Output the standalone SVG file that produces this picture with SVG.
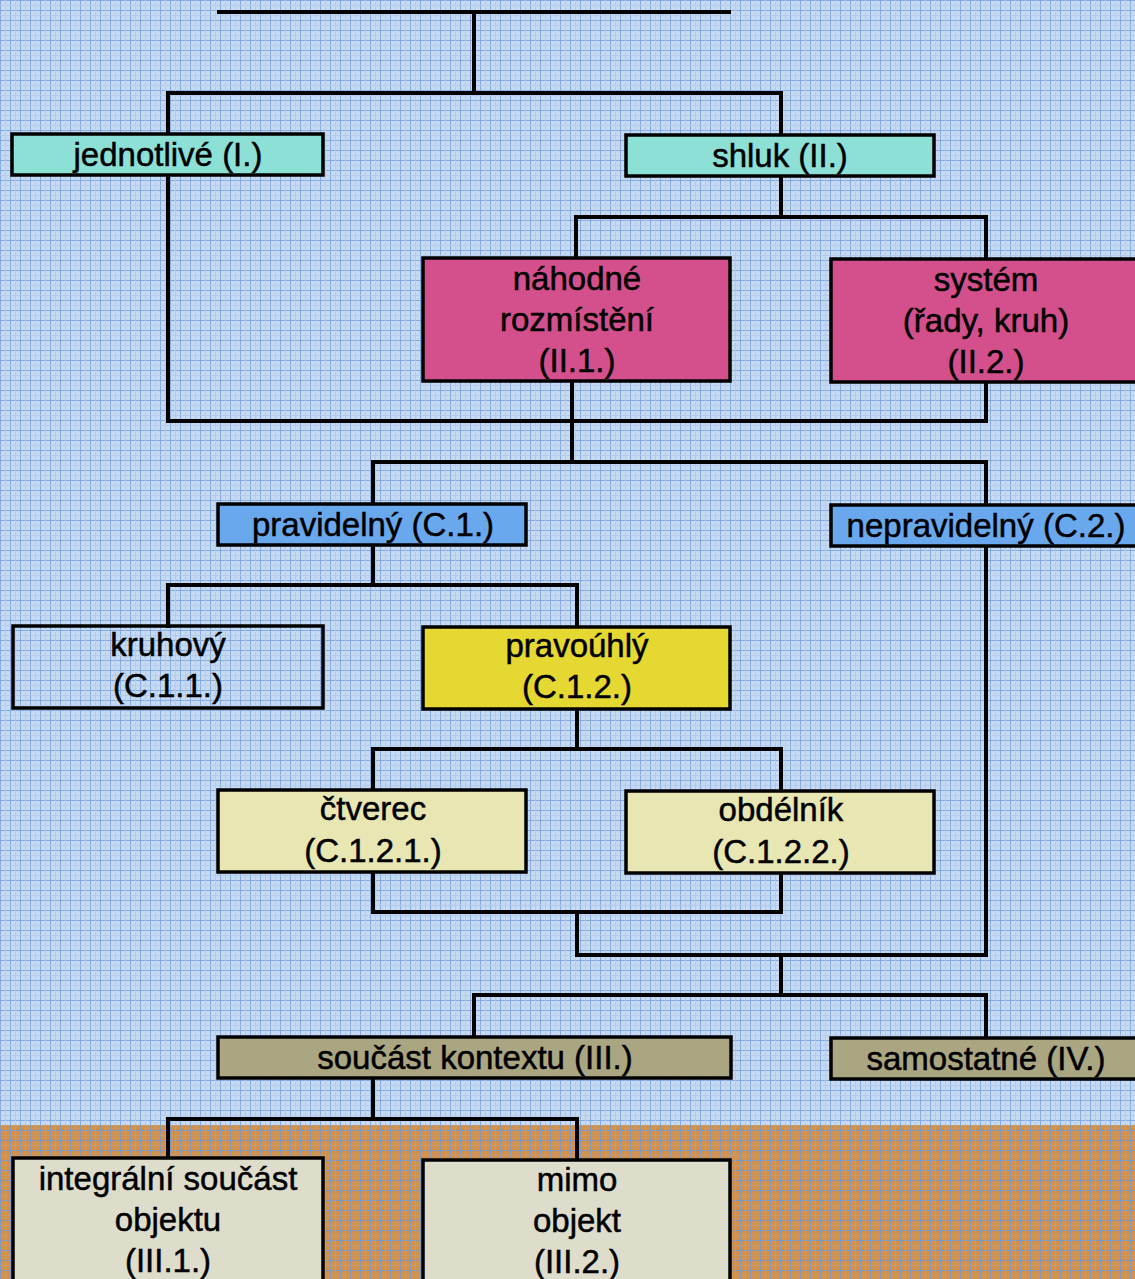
<svg xmlns="http://www.w3.org/2000/svg" width="1135" height="1279" viewBox="0 0 1135 1279">
<defs>
<pattern id="gridBlue" width="10" height="10" patternUnits="userSpaceOnUse">
<rect width="10" height="10" fill="#c6daf2"/>
<path d="M0 0.5H10M0.5 0V10" stroke="#84aadf" stroke-width="1"/>
<path d="M0 5.5H10M5.5 0V10" stroke="#b4cbec" stroke-width="1"/>
</pattern>
<pattern id="gridOrange" width="10" height="10" patternUnits="userSpaceOnUse">
<rect width="10" height="10" fill="#d3914a"/>
<path d="M0 0.5H10M0.5 0V10" stroke="#7f98c0" stroke-width="1"/>
<path d="M0 5.5H10M5.5 0V10" stroke="#c49870" stroke-width="1"/>
</pattern>
<style>
.box{stroke:#000;stroke-width:3.5}
.t{font-family:"Liberation Sans",Arial,sans-serif;font-size:33px;fill:#000;stroke:#000;stroke-width:0.5;text-anchor:middle}
.cn{fill:none;stroke:#000;stroke-width:4;stroke-linejoin:miter;stroke-linecap:square}
.cyan{fill:#8de0d6}
.mag{fill:#d4508c}
.blue{fill:#6aa8ee}
.yel{fill:#e6d832}
.pale{fill:#e8e6b2}
.khaki{fill:#aaa682}
.gray{fill:#deddcc}
.none{fill:none}
</style>
</defs>
<rect x="0" y="0" width="1135" height="1125" fill="url(#gridBlue)"/>
<rect x="0" y="1125" width="1135" height="154" fill="url(#gridOrange)"/>

<g id="connectors">
<path class="cn" d="M219 12H729"/>
<path class="cn" d="M474 12V93M168 134V93H781V135"/>
<path class="cn" d="M168 175V421H986V382"/>
<path class="cn" d="M781 176V217M576 258V217H986V259"/>
<path class="cn" d="M572 381V462M373 504V462H986V505"/>
<path class="cn" d="M373 545V585M168 626V585H577V627"/>
<path class="cn" d="M986 546V955"/>
<path class="cn" d="M577 709V749M373 790V749H781V791"/>
<path class="cn" d="M373 872V912H781V873"/>
<path class="cn" d="M577 912V955H986"/>
<path class="cn" d="M781 955V995M474 1037V995H986V1038"/>
<path class="cn" d="M373 1078V1119M168 1158V1119H577V1160"/>
</g>

<g id="n-jednotlive"><rect class="box cyan" x="12" y="134" width="311" height="41"/><text class="t" x="168" y="166">jednotlivé (I.)</text></g>
<g id="n-shluk"><rect class="box cyan" x="626" y="135" width="308" height="41"/><text class="t" x="780" y="167">shluk (II.)</text></g>
<g id="n-nahodne"><rect class="box mag" x="423" y="258" width="307" height="123"/><text class="t" x="577" y="290">náhodné</text><text class="t" x="577" y="331">rozmístění</text><text class="t" x="577" y="372">(II.1.)</text></g>
<g id="n-system"><rect class="box mag" x="831" y="259" width="310" height="123"/><text class="t" x="986" y="291">systém</text><text class="t" x="986" y="332">(řady, kruh)</text><text class="t" x="986" y="373">(II.2.)</text></g>
<g id="n-pravidelny"><rect class="box blue" x="218" y="504" width="308" height="41"/><text class="t" x="373" y="536">pravidelný (C.1.)</text></g>
<g id="n-nepravidelny"><rect class="box blue" x="831" y="505" width="310" height="41"/><text class="t" x="986" y="537">nepravidelný (C.2.)</text></g>
<g id="n-kruhovy"><rect class="box none" x="13" y="626" width="310" height="82"/><text class="t" x="168" y="656">kruhový</text><text class="t" x="168" y="697">(C.1.1.)</text></g>
<g id="n-pravouhly"><rect class="box yel" x="423" y="627" width="307" height="82"/><text class="t" x="577" y="657">pravoúhlý</text><text class="t" x="577" y="698">(C.1.2.)</text></g>
<g id="n-ctverec"><rect class="box pale" x="218" y="790" width="308" height="82"/><text class="t" x="373" y="820">čtverec</text><text class="t" x="373" y="862">(C.1.2.1.)</text></g>
<g id="n-obdelnik"><rect class="box pale" x="626" y="791" width="308" height="82"/><text class="t" x="781" y="821">obdélník</text><text class="t" x="781" y="863">(C.1.2.2.)</text></g>
<g id="n-soucast"><rect class="box khaki" x="218" y="1037" width="513" height="41"/><text class="t" x="475" y="1069">součást kontextu (III.)</text></g>
<g id="n-samostatne"><rect class="box khaki" x="831" y="1038" width="310" height="41"/><text class="t" x="986" y="1070">samostatné (IV.)</text></g>
<g id="n-integralni"><rect class="box gray" x="13" y="1158" width="310" height="130"/><text class="t" x="168" y="1190">integrální součást</text><text class="t" x="168" y="1231">objektu</text><text class="t" x="168" y="1272">(III.1.)</text></g>
<g id="n-mimo"><rect class="box gray" x="423" y="1160" width="307" height="130"/><text class="t" x="577" y="1191">mimo</text><text class="t" x="577" y="1232">objekt</text><text class="t" x="577" y="1273">(III.2.)</text></g>
</svg>
